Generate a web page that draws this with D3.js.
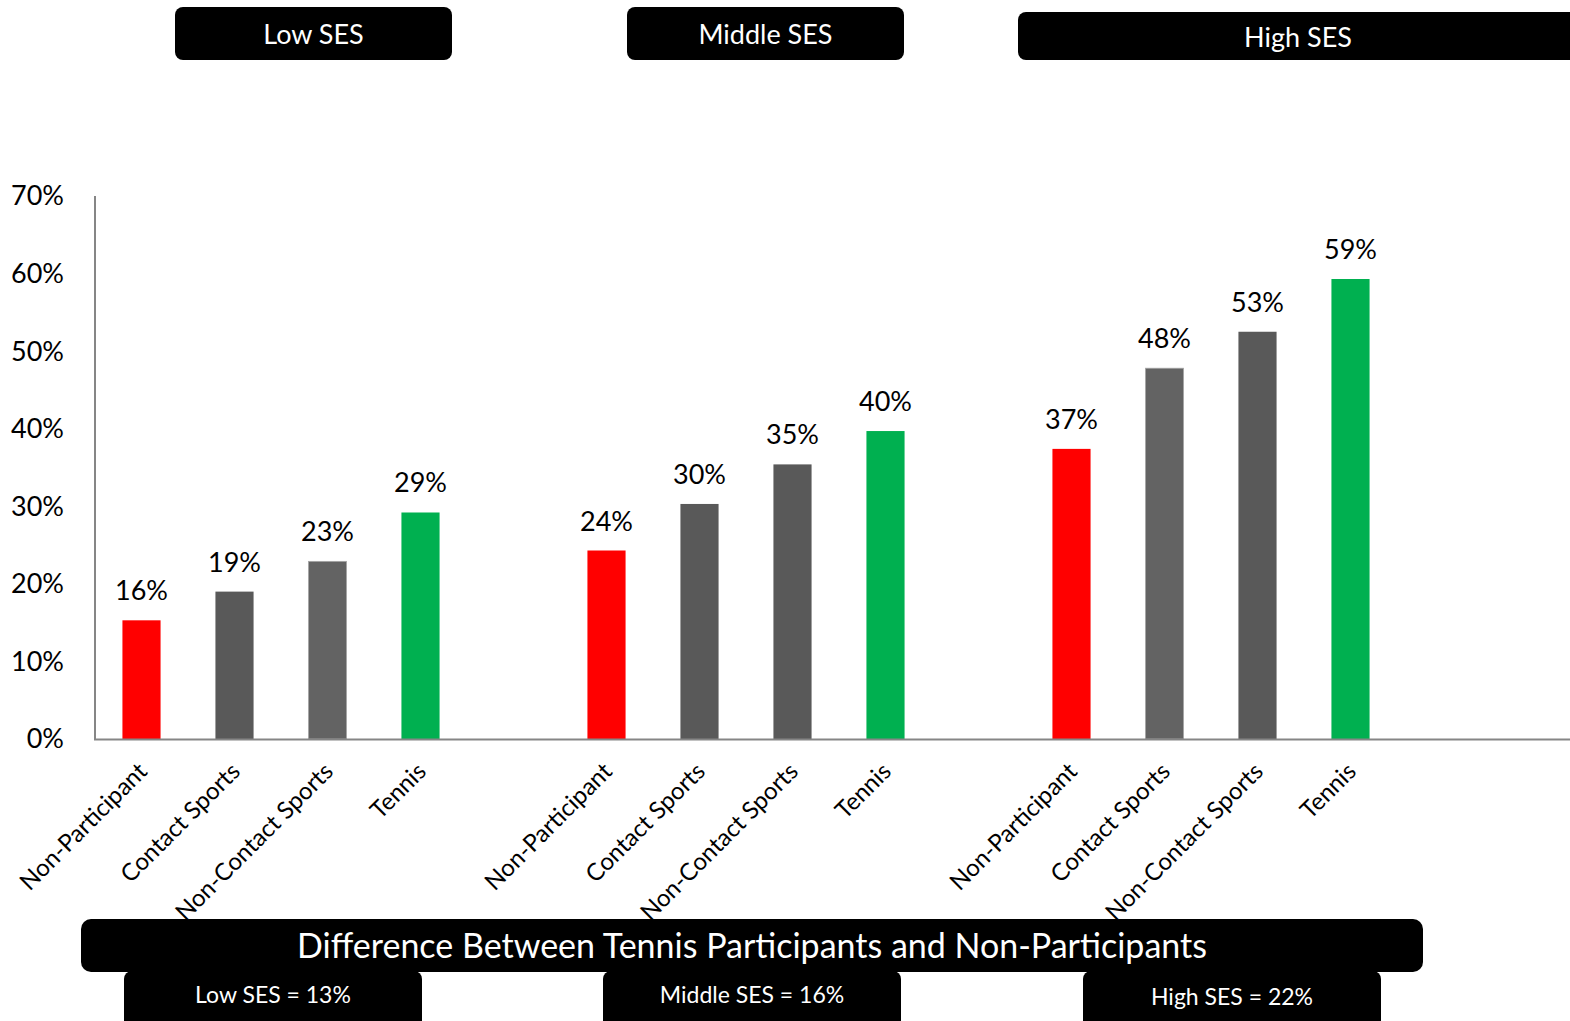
<!DOCTYPE html>
<html>
<head>
<meta charset="utf-8">
<script src="https://cdn.jsdelivr.net/npm/d3@7"></script>
<style>
  body { margin: 0; background: #fff; overflow: hidden; }
  text { font-family: Lato, "Open Sans", sans-serif; }
</style>
</head>
<body>
<div id="chart"></div>
<script>
// groups and categories
var groups = ["Low SES", "Middle SES", "High SES"];
var categories = ["Non-Participant", "Contact Sports", "Non-Contact Sports", "Tennis"];
var DARK = "#595959", MID = "#636363";
var lowColors = ["#ff0000", DARK, MID, "#00b050"];
var middleColors = ["#ff0000", DARK, DARK, "#00b050"];
var highColors = ["#ff0000", MID, DARK, "#00b050"];

// bar heights (%)
var lowValues = [15.3, 19.0, 22.9, 29.2];
var middleValues = [24.3, 30.3, 35.4, 39.7];
var highValues = [37.4, 47.8, 52.5, 59.3];
// printed labels
var lowLabels = ["16%", "19%", "23%", "29%"];
var middleLabels = ["24%", "30%", "35%", "40%"];
var highLabels = ["37%", "48%", "53%", "59%"];

var yTicks = [0, 10, 20, 30, 40, 50, 60, 70];
var diffTitle = "Difference Between Tennis Participants and Non-Participants";
var diffLabels = ["Low SES = 13%", "Middle SES = 16%", "High SES = 22%"];

var W = 1570, H = 1021;
var svg = d3.select("#chart").append("svg")
  .attr("width", W)
  .attr("height", H);

// flatten into one row per bar, leaving an empty slot between groups
var allValues = [lowValues, middleValues, highValues],
  allLabels = [lowLabels, middleLabels, highLabels],
  allColors = [lowColors, middleColors, highColors];
var rows = [];
allValues.forEach(function (vals, g) {
  vals.forEach(function (v, c) {
    rows.push({
      group: g, cat: c, slot: g * 5 + c, value: v,
      label: allLabels[g][c], color: allColors[g][c]
    });
  });
});

var x = d3.scaleBand()
  .domain(d3.range(16))
  .range([95, 95 + 16 * 93])
  .paddingInner(0.59)
  .paddingOuter(0.295);
var y = d3.scaleLinear().domain([0, 70]).range([739, 196]);

// y axis labels
svg.selectAll(".ytick")
  .data(yTicks)
  .enter().append("text")
  .attr("class", "ytick")
  .attr("x", 64)
  .attr("y", function (d) { return y(d); })
  .attr("dy", "0.35em")
  .attr("text-anchor", "end")
  .style("font-size", "27px")
  .attr("fill", "#000")
  .text(function (d) { return d + "%"; });

// bars
svg.selectAll(".bar")
  .data(rows)
  .enter().append("rect")
  .attr("class", "bar")
  .attr("x", function (d) { return x(d.slot); })
  .attr("width", x.bandwidth())
  .attr("y", function (d) { return y(d.value); })
  .attr("height", function (d) { return y(0) - y(d.value); })
  .attr("fill", function (d) { return d.color; })
  .attr("stroke", function (d) { return d.color === MID ? "#a6a6a6" : "none"; })
  .attr("stroke-width", 0.8);

// value labels
svg.selectAll(".vlabel")
  .data(rows)
  .enter().append("text")
  .attr("class", "vlabel")
  .attr("x", function (d) { return x(d.slot) + x.bandwidth() / 2; })
  .attr("y", function (d) { return y(d.value) - 20; })
  .attr("text-anchor", "middle")
  .style("font-size", "27px")
  .text(function (d) { return d.label; });

// axes lines
svg.append("line")
  .attr("x1", 95).attr("x2", 95)
  .attr("y1", y(70)).attr("y2", y(0))
  .attr("stroke", "#868686").attr("stroke-width", 2);
svg.append("line")
  .attr("x1", 94).attr("x2", W)
  .attr("y1", y(0) + 0.5).attr("y2", y(0) + 0.5)
  .attr("stroke", "#868686").attr("stroke-width", 2);

// category labels, rotated
svg.selectAll(".xlabel")
  .data(rows)
  .enter().append("text")
  .attr("class", "xlabel")
  .attr("text-anchor", "end")
  .style("font-size", "24px")
  .attr("transform", function (d) {
    var cx = x(d.slot) + x.bandwidth() / 2 + 7;
    return "translate(" + cx + ",773) rotate(-45)";
  })
  .text(function (d) { return categories[d.cat]; });

// header boxes
var headers = [
  {text: groups[0], x: 175, y: 7, w: 277, h: 53},
  {text: groups[1], x: 627, y: 7, w: 277, h: 53},
  {text: groups[2], x: 1018, y: 12, w: 600, h: 48, tx: 1298}
];
headers.forEach(function (b) {
  svg.append("rect")
    .attr("x", b.x).attr("y", b.y)
    .attr("width", b.w).attr("height", b.h)
    .attr("rx", 8)
    .attr("fill", "#000");
  svg.append("text")
    .attr("x", b.tx || b.x + b.w / 2)
    .attr("y", b.y + b.h / 2 + 1)
    .attr("dy", "0.36em")
    .attr("text-anchor", "middle")
    .attr("fill", "#fff")
    .style("font-size", "27px")
    .text(b.text);
});

// difference boxes at the bottom
svg.append("rect")
  .attr("x", 81).attr("y", 919)
  .attr("width", 1342).attr("height", 53)
  .attr("rx", 10).attr("fill", "#000");
svg.append("text")
  .attr("x", 752).attr("y", 946)
  .attr("dy", "0.36em")
  .attr("text-anchor", "middle")
  .attr("fill", "#fff")
  .style("font-size", "34px")
  .text(diffTitle);

var subX = [124, 603, 1083];
subX.forEach(function (sx, i) {
  svg.append("rect")
    .attr("x", sx).attr("y", 971)
    .attr("width", 298).attr("height", 60)
    .attr("rx", 8).attr("fill", "#000");
  svg.append("text")
    .attr("x", sx + 149).attr("y", i === 2 ? 997 : 995)
    .attr("dy", "0.36em")
    .attr("text-anchor", "middle")
    .attr("fill", "#fff")
    .style("font-size", "23px")
    .text(diffLabels[i]);
});
</script>
</body>
</html>
